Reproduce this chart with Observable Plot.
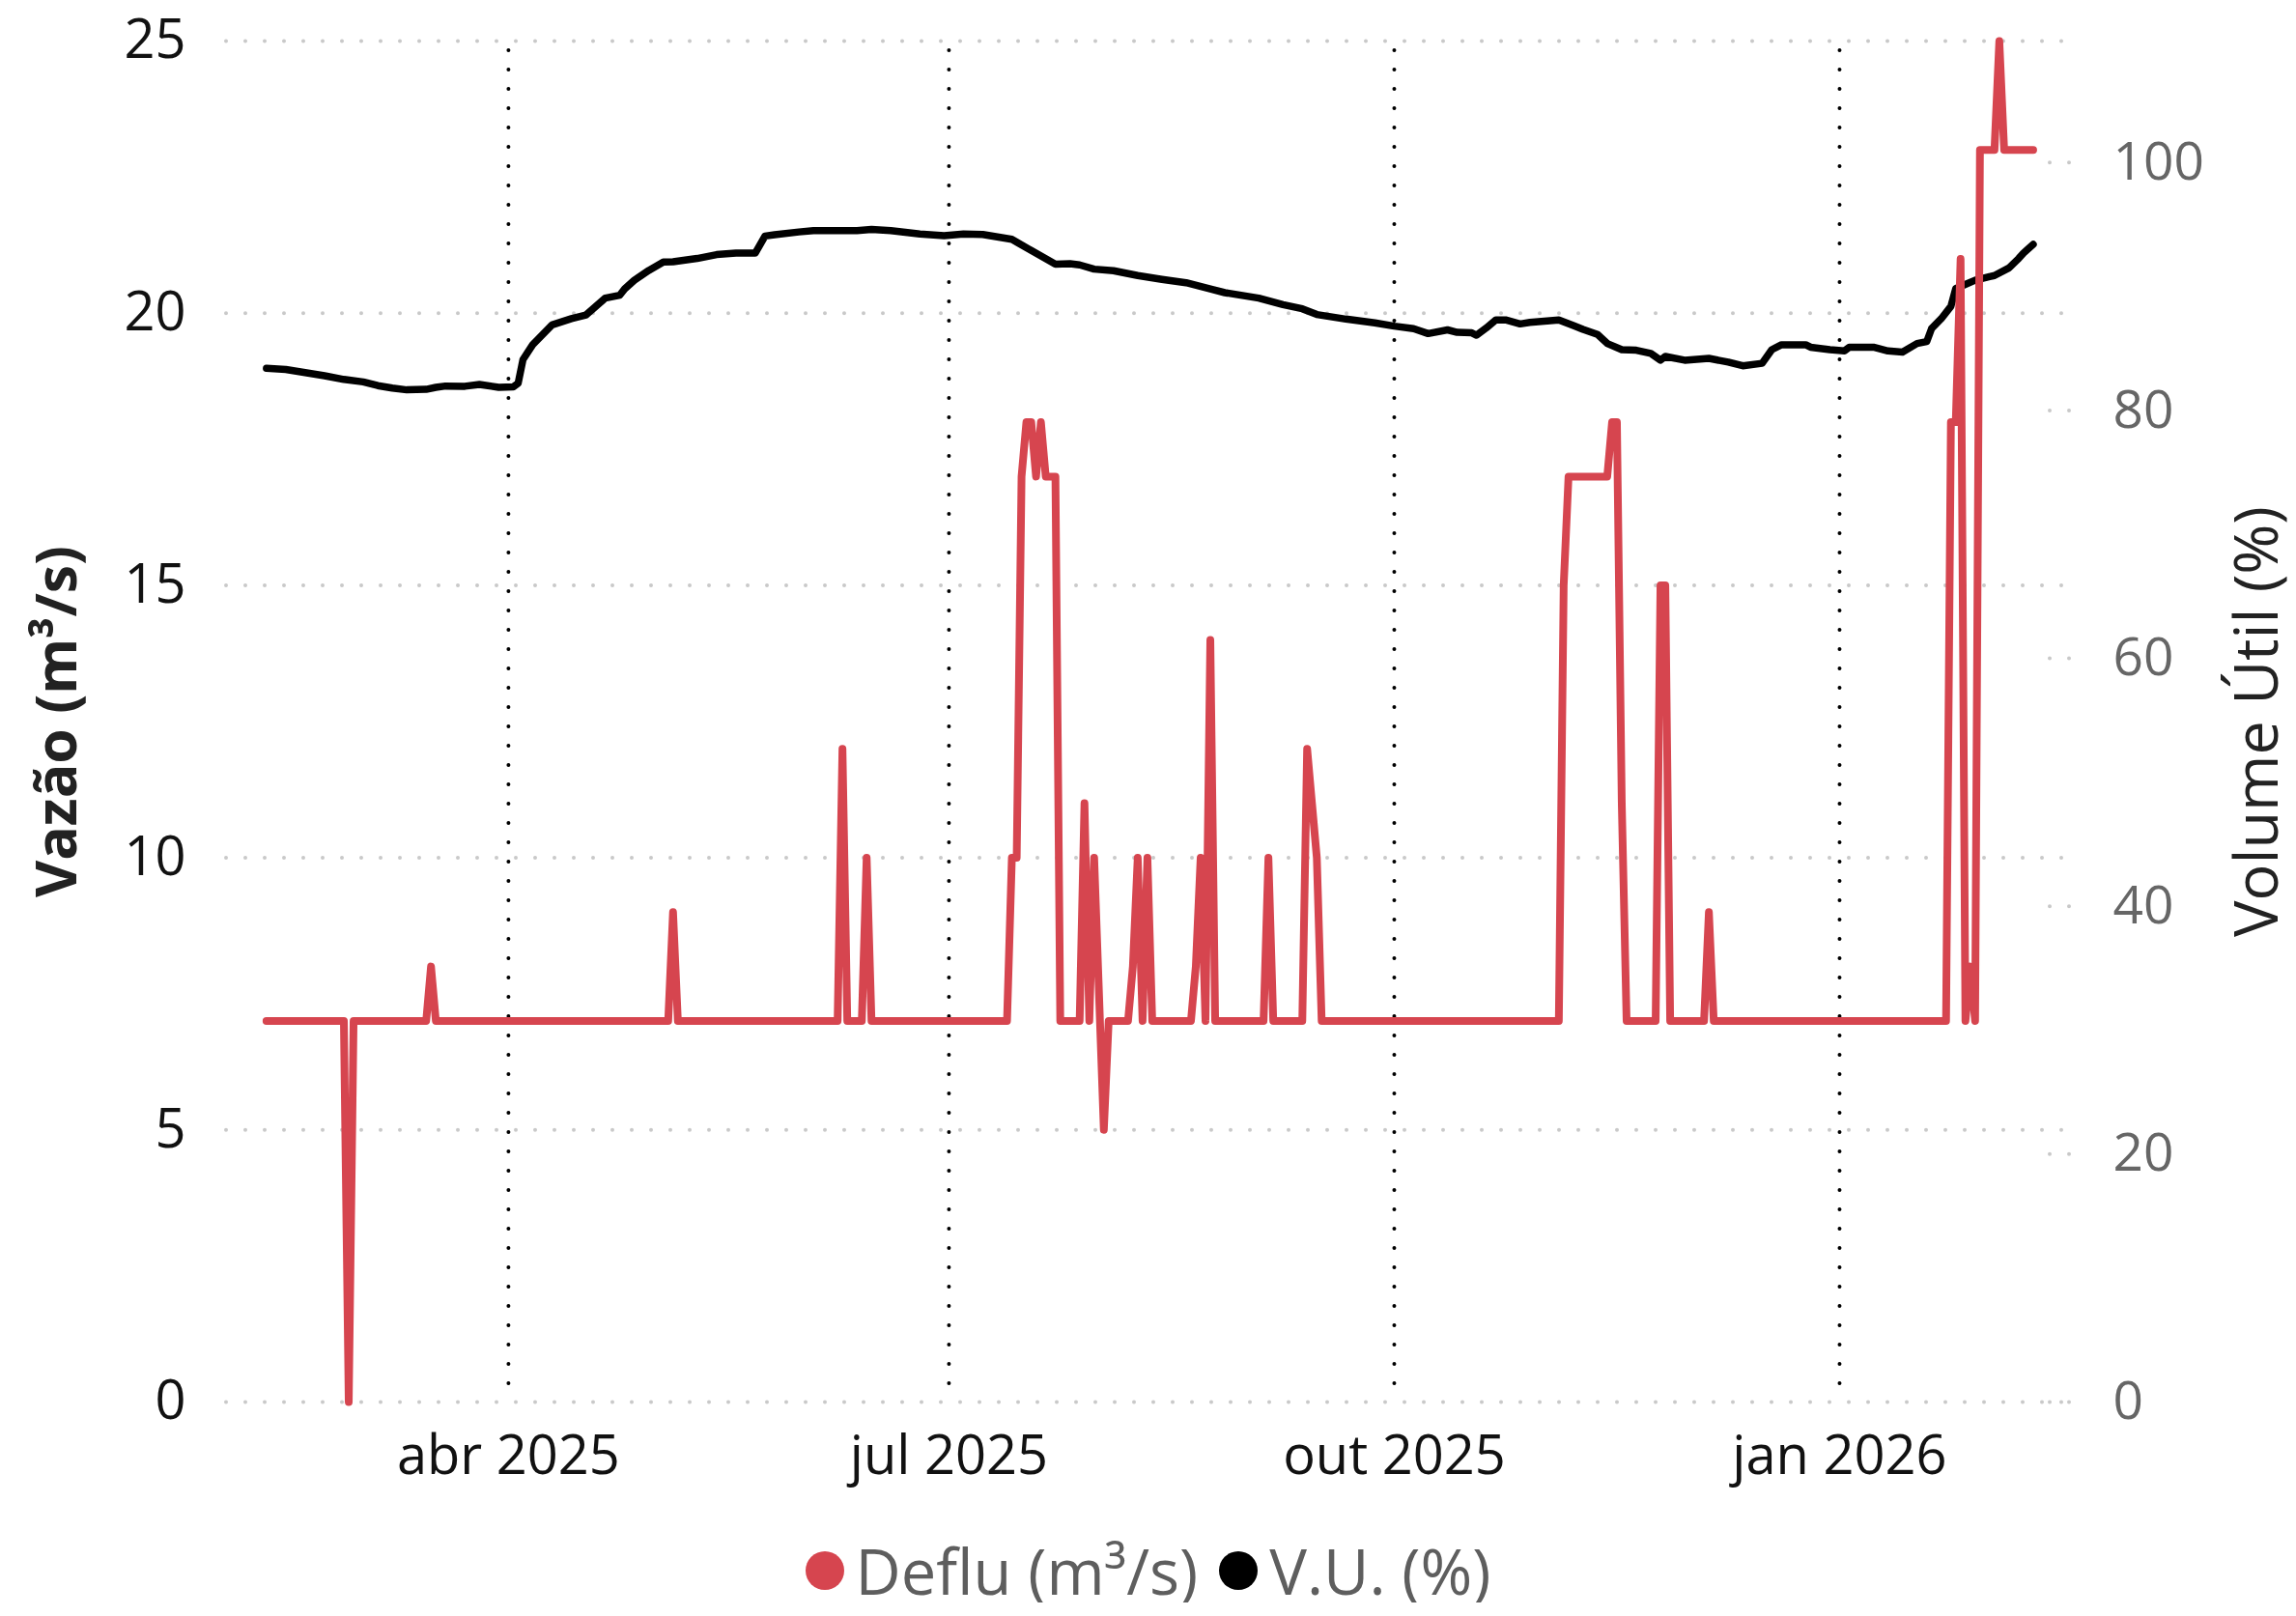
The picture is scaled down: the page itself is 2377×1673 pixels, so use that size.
<!DOCTYPE html>
<html>
<head>
<meta charset="utf-8">
<script src="https://cdn.jsdelivr.net/npm/d3@7"></script>
<script src="https://cdn.jsdelivr.net/npm/@observablehq/plot@0.6"></script>
<style>
  html, body { margin: 0; padding: 0; background: #fff; }
  #chart svg { display: block; }
  #legend {
    height: 66px; padding-top: 33px;
    display: flex; align-items: center; justify-content: center;
    font-family: 'Open Sans', sans-serif; font-size: 65px; color: #5e5e5e; line-height: 1;
  }
  .item { display: flex; align-items: center; line-height: 1; }
  .sw { width: 40px; height: 40px; border-radius: 50%; margin-right: 12px; }
</style>
</head>
<body>
<div id="chart"></div>
<div id="legend"></div>
<script>
// ---- Deflu (m³/s) – left axis
const defluDates = [
  "2025-02-10","2025-02-26","2025-02-27","2025-02-28","2025-03-15","2025-03-16","2025-03-17",
  "2025-05-04","2025-05-05","2025-05-06","2025-06-08","2025-06-09","2025-06-10","2025-06-13",
  "2025-06-14","2025-06-15","2025-07-13","2025-07-14","2025-07-15","2025-07-16","2025-07-17",
  "2025-07-18","2025-07-19","2025-07-20","2025-07-21","2025-07-23","2025-07-24","2025-07-28",
  "2025-07-29","2025-07-30","2025-07-31","2025-08-02","2025-08-03","2025-08-07","2025-08-08",
  "2025-08-09","2025-08-10","2025-08-11","2025-08-12","2025-08-20","2025-08-21","2025-08-22",
  "2025-08-23","2025-08-24","2025-08-25","2025-09-04","2025-09-05","2025-09-06","2025-09-12",
  "2025-09-13","2025-09-14","2025-09-15","2025-09-16","2025-11-04","2025-11-05","2025-11-06",
  "2025-11-14","2025-11-15","2025-11-16","2025-11-17","2025-11-18","2025-11-24","2025-11-25",
  "2025-11-26","2025-11-27","2025-12-04","2025-12-05","2025-12-06","2026-01-23","2026-01-24",
  "2026-01-25","2026-01-26","2026-01-27","2026-01-28","2026-01-29","2026-01-30","2026-02-02",
  "2026-02-03","2026-02-04","2026-02-10"
];
const defluValues = [
  7,7,0,7,7,8,7,
  7,9,7,7,12,7,7,
  10,7,7,10,10,17,18,
  18,17,18,17,17,7,7,
  11,7,10,5,7,7,8,
  10,7,10,7,7,8,10,
  7,14,7,7,10,7,7,
  12,11,10,7,7,15,17,
  17,18,18,11,7,7,15,
  15,7,7,9,7,7,18,
  18,21,7,8,7,23,23,
  25,23,23
];

// ---- V.U. (%) – right axis
const vuDates = [
  "2025-02-10","2025-02-14","2025-02-22","2025-02-26","2025-03-02","2025-03-05","2025-03-08",
  "2025-03-11","2025-03-15","2025-03-17","2025-03-19","2025-03-23","2025-03-26","2025-03-30",
  "2025-04-02","2025-04-03","2025-04-04","2025-04-06","2025-04-08","2025-04-10","2025-04-14",
  "2025-04-17","2025-04-21","2025-04-24","2025-04-25","2025-04-27","2025-04-30","2025-05-03",
  "2025-05-05","2025-05-10","2025-05-14","2025-05-18","2025-05-22","2025-05-24","2025-05-26",
  "2025-05-31","2025-06-03","2025-06-12","2025-06-15","2025-06-19","2025-06-25","2025-06-30",
  "2025-07-04","2025-07-08","2025-07-14","2025-07-18","2025-07-23","2025-07-26","2025-07-28",
  "2025-07-31","2025-08-04","2025-08-09","2025-08-14","2025-08-19","2025-08-24","2025-08-27",
  "2025-09-03","2025-09-08","2025-09-12","2025-09-15","2025-09-21","2025-09-27","2025-10-01",
  "2025-10-05","2025-10-08","2025-10-12","2025-10-14","2025-10-17","2025-10-18","2025-10-20",
  "2025-10-22","2025-10-24","2025-10-27","2025-10-29","2025-11-04","2025-11-07","2025-11-09",
  "2025-11-12","2025-11-14","2025-11-17","2025-11-20","2025-11-23","2025-11-25","2025-11-26",
  "2025-11-30","2025-12-05","2025-12-09","2025-12-12","2025-12-16","2025-12-18","2025-12-20",
  "2025-12-25","2025-12-26","2025-12-30","2026-01-02","2026-01-03","2026-01-08","2026-01-11",
  "2026-01-14","2026-01-17","2026-01-19","2026-01-20","2026-01-22","2026-01-24","2026-01-25",
  "2026-01-29","2026-02-01","2026-02-02","2026-02-05","2026-02-07","2026-02-08","2026-02-10"
];
const vuValues = [
  83.4,83.3,82.8,82.5,82.3,82.0,81.8,
  81.66,81.7,81.86,81.97,81.95,82.1,81.86,
  81.9,82.2,84.1,85.3,86.1,86.9,87.4,
  87.7,89.06,89.3,89.8,90.5,91.3,91.97,
  92.0,92.26,92.57,92.7,92.7,94.07,94.18,
  94.4,94.5,94.5,94.6,94.5,94.23,94.1,
  94.23,94.2,93.8,92.9,91.8,91.84,91.74,
  91.4,91.27,90.88,90.57,90.3,89.8,89.5,
  89.06,88.54,88.2,87.74,87.37,87.06,86.8,
  86.6,86.2,86.5,86.3,86.26,86.07,86.65,
  87.3,87.3,86.98,87.1,87.3,86.85,86.54,
  86.13,85.4,84.9,84.86,84.6,84.05,84.36,
  84.05,84.2,83.9,83.6,83.8,84.9,85.3,
  85.3,85.1,84.9,84.8,85.1,85.1,84.8,
  84.7,85.4,85.55,86.6,87.4,88.4,89.84,
  90.5,90.8,90.88,91.5,92.26,92.7,93.4
];

// ---- ticks / labels
const leftTicks = [0, 5, 10, 15, 20, 25];
const rightTicks = [0, 20, 40, 60, 80, 100];
const xTickDates = ["2025-04-01", "2025-07-01", "2025-10-01", "2026-01-01"];
const xTickLabels = ["abr 2025", "jul 2025", "out 2025", "jan 2026"];
const leftTitle = "Vazão (m³/s)";
const rightTitle = "Volume Útil (%)";
const seriesNames = ["Deflu (m³/s)", "V.U. (%)"];
const seriesColors = ["#d6454f", "#000000"];

const leftMax = 25, rightMax = 109.8;
const k = leftMax / rightMax;

const deflu = defluDates.map((d, i) => ({date: new Date(d), value: defluValues[i]}));
const vu = vuDates.map((d, i) => ({date: new Date(d), value: vuValues[i]}));
const xTicks = xTickDates.map(d => new Date(d));

const font = "'Open Sans', sans-serif";

const chart = Plot.plot({
  width: 2377,
  height: 1560,
  marginTop: 42,
  marginBottom: 109,
  marginLeft: 234,
  marginRight: 240,
  style: {fontFamily: font, background: "#fff", overflow: "visible"},
  x: {type: "utc", domain: [new Date("2025-02-01T18:00Z"), new Date("2026-02-16T12:00Z")]},
  y: {domain: [0, leftMax]},
  marks: [
    Plot.ruleY(leftTicks, {stroke: "#c9c9c9", strokeWidth: 4, strokeDasharray: "0,20", strokeLinecap: "round"}),
    Plot.ruleY(rightTicks, {y: d => d * k, stroke: "#c9c9c9", strokeWidth: 4, strokeDasharray: "0,20",
      strokeLinecap: "round", insetLeft: 1888, insetRight: -12}),
    Plot.ruleX(xTicks, {stroke: "#000", strokeWidth: 4, strokeDasharray: "0,20", strokeDashoffset: 10, strokeLinecap: "round"}),
    Plot.axisY(leftTicks, {anchor: "left", tickSize: 0, tickPadding: 42, fontSize: 56, color: "#111", label: null,
      tickFormat: d => String(d)}),
    Plot.axisY(rightTicks.map(d => d * k), {anchor: "right", tickSize: 0, tickPadding: 50, fontSize: 55,
      color: "#666", label: null, tickFormat: d => String(Math.round(d / k))}),
    Plot.axisX(xTicks, {anchor: "bottom", tickSize: 0, tickPadding: 35, fontSize: 56, color: "#111", label: null,
      tickFormat: d => xTickLabels[xTicks.findIndex(t => +t === +d)]}),
    Plot.text([leftTitle], {text: d => d, frameAnchor: "left", textAnchor: "middle", lineAnchor: "middle",
      dx: -174, rotate: -90, fontSize: 59, fontWeight: "bold", fill: "#222"}),
    Plot.text([rightTitle], {text: d => d, frameAnchor: "right", textAnchor: "middle", lineAnchor: "middle",
      dx: 200, rotate: -90, fontSize: 63, fontWeight: 500, fill: "#222"}),
    Plot.line(vu, {x: "date", y: d => d.value * k, stroke: seriesColors[1], strokeWidth: 7.5,
      strokeLinejoin: "round", strokeLinecap: "round"}),
    Plot.line(deflu, {x: "date", y: "value", stroke: seriesColors[0], strokeWidth: 8,
      strokeLinejoin: "round", strokeLinecap: "round"})
  ]
});
document.getElementById("chart").appendChild(chart);

const legend = document.getElementById("legend");
seriesNames.forEach((name, i) => {
  const item = document.createElement("div");
  item.className = "item";
  item.style.marginRight = i === 0 ? "22px" : "0";
  const sw = document.createElement("div");
  sw.className = "sw";
  sw.style.background = seriesColors[i];
  const lab = document.createElement("span");
  lab.textContent = name;
  item.appendChild(sw);
  item.appendChild(lab);
  legend.appendChild(item);
});
</script>
</body>
</html>
